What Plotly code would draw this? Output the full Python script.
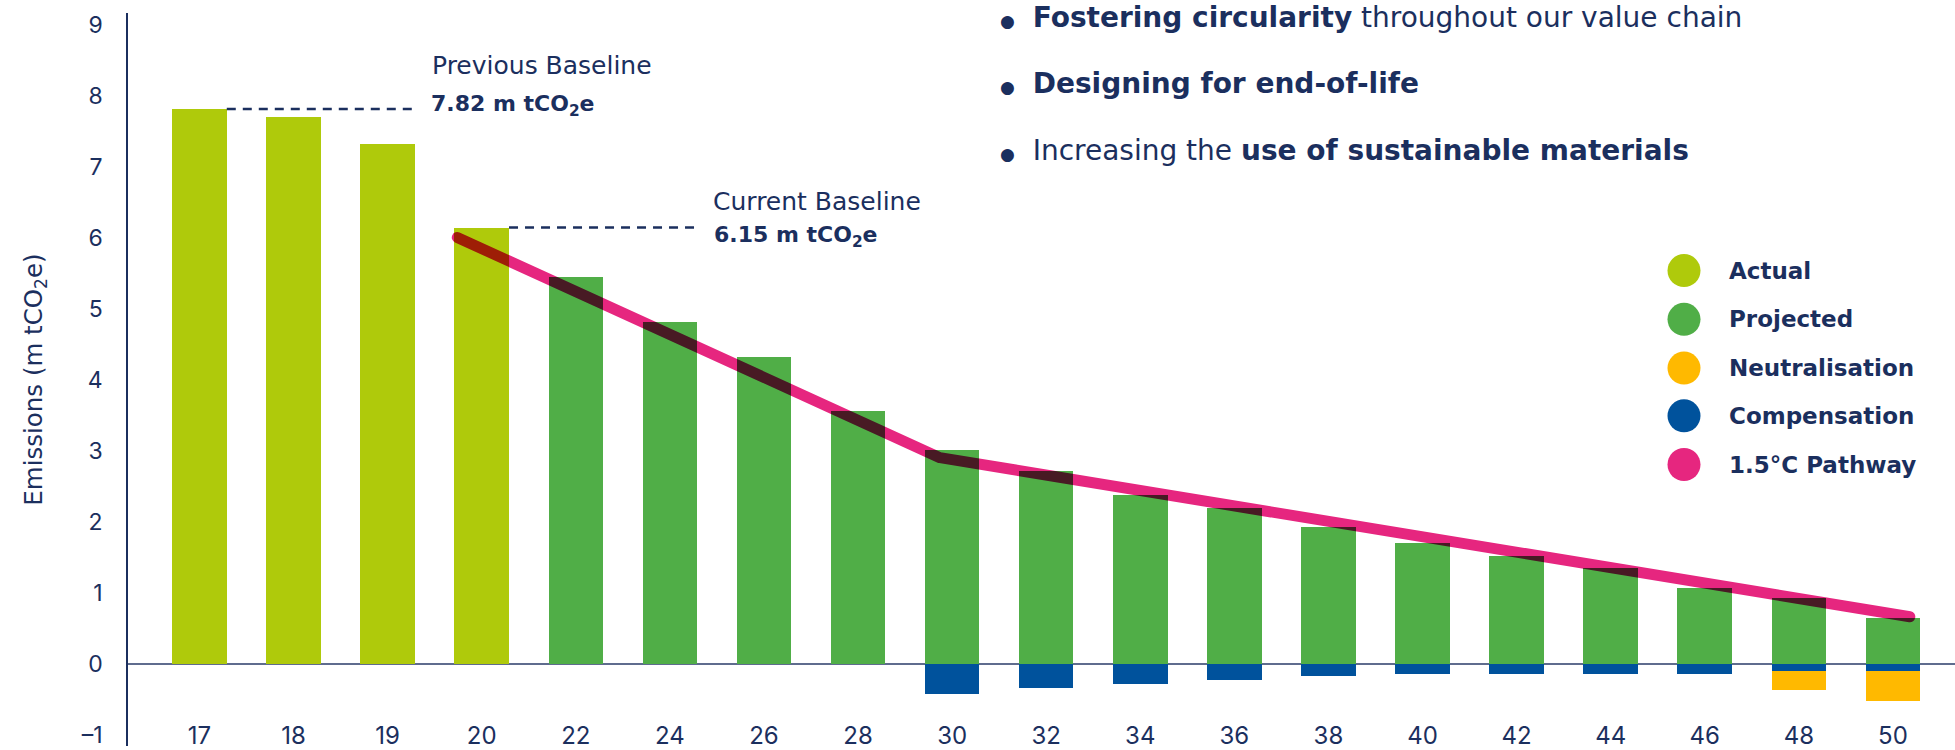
import plotly.graph_objects as go

# Years shown on the category axis (20xx)
years = ["17", "18", "19", "20", "22", "24", "26", "28", "30", "32",
         "34", "36", "38", "40", "42", "44", "46", "48", "50"]

# Emissions, m tCO2e
actual = [7.82, 7.71, 7.32, 6.15]
projected = [5.46, 4.82, 4.33, 3.56, 3.02, 2.72, 2.39, 2.20, 1.94,
             1.71, 1.52, 1.35, 1.07, 0.93, 0.65]
compensation = [-0.42, -0.33, -0.27, -0.22, -0.17, -0.13, -0.13,
                -0.13, -0.13, -0.10, -0.10]
neutralisation = [-0.26, -0.42]

# 1.5°C pathway vertices (x in category-index units)
pathway_x = [2.74, 7.87, 18.18]
pathway_y = [6.01, 2.91, 0.67]

previous_baseline = 7.82
current_baseline = 6.15

legend_labels = ["Actual", "Projected", "Neutralisation", "Compensation", "1.5°C Pathway"]
legend_colors = ["#afca0b", "#50ae47", "#ffb900", "#00529c", "#e6267f"]

bullets = [
    "<b>Fostering circularity</b> throughout our value chain",
    "<b>Designing for end-of-life</b>",
    "Increasing the <b>use of sustainable materials</b>",
]

NAVY = "#1b2f5e"
FONT = "DejaVu Sans"
TICK_FONT = "Inter"
W, H = 1955, 750
ML, MT = 128, 13
PW, PH = W - ML, H - MT
BAR_W = 0.58

idx = list(range(len(years)))
act_x = idx[:len(actual)]
proj_x = idx[len(actual):]
comp_x = idx[len(years) - len(compensation):]
neut_x = idx[len(years) - len(neutralisation):]


def px_x(p):
    return (p - ML) / PW


def px_y(p):
    return (H - p) / PH


fig = go.Figure()
fig.add_bar(x=act_x, y=actual, width=BAR_W, marker_color=legend_colors[0],
            marker_line_width=0, name="Actual")
fig.add_bar(x=proj_x, y=projected, width=BAR_W, marker_color=legend_colors[1],
            marker_line_width=0, name="Projected")
fig.add_bar(x=comp_x, y=compensation, width=BAR_W, marker_color=legend_colors[3],
            marker_line_width=0, name="Compensation")
fig.add_bar(x=neut_x, y=neutralisation, width=BAR_W, marker_color=legend_colors[2],
            marker_line_width=0, name="Neutralisation")
fig.add_scatter(x=pathway_x, y=pathway_y, mode="lines",
                line=dict(color=legend_colors[4], width=11),
                name="1.5°C Pathway", hoverinfo="skip")

# Baseline leader lines
fig.add_shape(type="line", xref="x", yref="y",
              x0=act_x[0] + BAR_W / 2, x1=2.29,
              y0=previous_baseline, y1=previous_baseline,
              line=dict(color=NAVY, width=2.5, dash="9px,7px"))
fig.add_shape(type="line", xref="x", yref="y",
              x0=act_x[3] + BAR_W / 2, x1=5.29,
              y0=current_baseline, y1=current_baseline,
              line=dict(color=NAVY, width=2.5, dash="9px,7px"))

annotations = [
    dict(x=2.45, y=8.43, text="Previous Baseline", font=dict(size=25, color=NAVY)),
    dict(x=2.44, y=previous_baseline + 0.05,
         text=f"<b>{previous_baseline:.2f} m tCO<sub>2</sub>e</b>",
         font=dict(size=22, color=NAVY)),
    dict(x=5.44, y=6.51, text="Current Baseline", font=dict(size=25, color=NAVY)),
    dict(x=5.45, y=current_baseline - 0.12,
         text=f"<b>{current_baseline:.2f} m tCO<sub>2</sub>e</b>",
         font=dict(size=22, color=NAVY)),
]
for a in annotations:
    a.update(xref="x", yref="y", xanchor="left", yanchor="middle", showarrow=False)

# Bullet list at the top
for txt, ypx in zip(bullets, [18, 84, 151]):
    annotations.append(dict(
        xref="paper", yref="paper", x=px_x(998), y=px_y(ypx),
        xanchor="left", yanchor="middle", showarrow=False,
        text='<span style="font-size:17px">●</span>  ' + txt,
        font=dict(size=28, color=NAVY)))

# Legend: coloured dots with bold labels
legend_y = [272, 321, 370, 418, 467]
for lab, col, ypx in zip(legend_labels, legend_colors, legend_y):
    fig.add_shape(type="circle", xref="paper", yref="paper",
                  xsizemode="pixel", ysizemode="pixel",
                  xanchor=px_x(1684), yanchor=px_y(ypx),
                  x0=-16.5, x1=16.5, y0=-16.5, y1=16.5,
                  fillcolor=col, line_width=0)
    annotations.append(dict(
        xref="paper", yref="paper", x=px_x(1727), y=px_y(ypx),
        xanchor="left", yanchor="middle", showarrow=False,
        text=f"<b>{lab}</b>", font=dict(size=23, color=NAVY)))

fig.update_layout(
    width=W, height=H,
    margin=dict(l=ML, r=0, t=MT, b=0, pad=0),
    paper_bgcolor="white", plot_bgcolor="white",
    barmode="relative", bargap=0,
    showlegend=False,
    font=dict(family=FONT, color=NAVY),
    annotations=annotations,
)
fig.update_xaxes(
    range=[-0.76, 18.66], tickvals=idx, ticktext=years,
    anchor="free", position=0.037,
    showline=False, showgrid=False, zeroline=False, ticks="",
    tickfont=dict(family=TICK_FONT, size=24, color=NAVY),
)
fig.update_yaxes(
    range=[-1.15, 9.17], tickvals=list(range(-1, 10)),
    ticktext=["–1"] + [str(v) for v in range(0, 10)],
    showgrid=False, showline=True, linecolor=NAVY, linewidth=1.5,
    zeroline=True, zerolinecolor="#5f6c8e", zerolinewidth=2,
    ticks="outside", ticklen=19, tickcolor="rgba(0,0,0,0)",
    tickfont=dict(family=TICK_FONT, size=23, color=NAVY),
    title=dict(text="Emissions (m tCO<sub>2</sub>e)", standoff=32,
               font=dict(family=FONT, size=24.5, color=NAVY)),
    layer="above traces",
)

# Multiply-blend the pathway stroke over the bars, with round caps
post = """
var gd = document.getElementById('{plot_id}');
function styleLine(){
  gd.querySelectorAll('.scatterlayer .trace path.js-line').forEach(function(p){
    p.style.mixBlendMode = 'multiply';
    p.style.strokeLinecap = 'round';
    p.style.strokeLinejoin = 'round';
  });
}
styleLine();
gd.on('plotly_afterplot', styleLine);
"""

fig.write_html("out.html", post_script=post)
